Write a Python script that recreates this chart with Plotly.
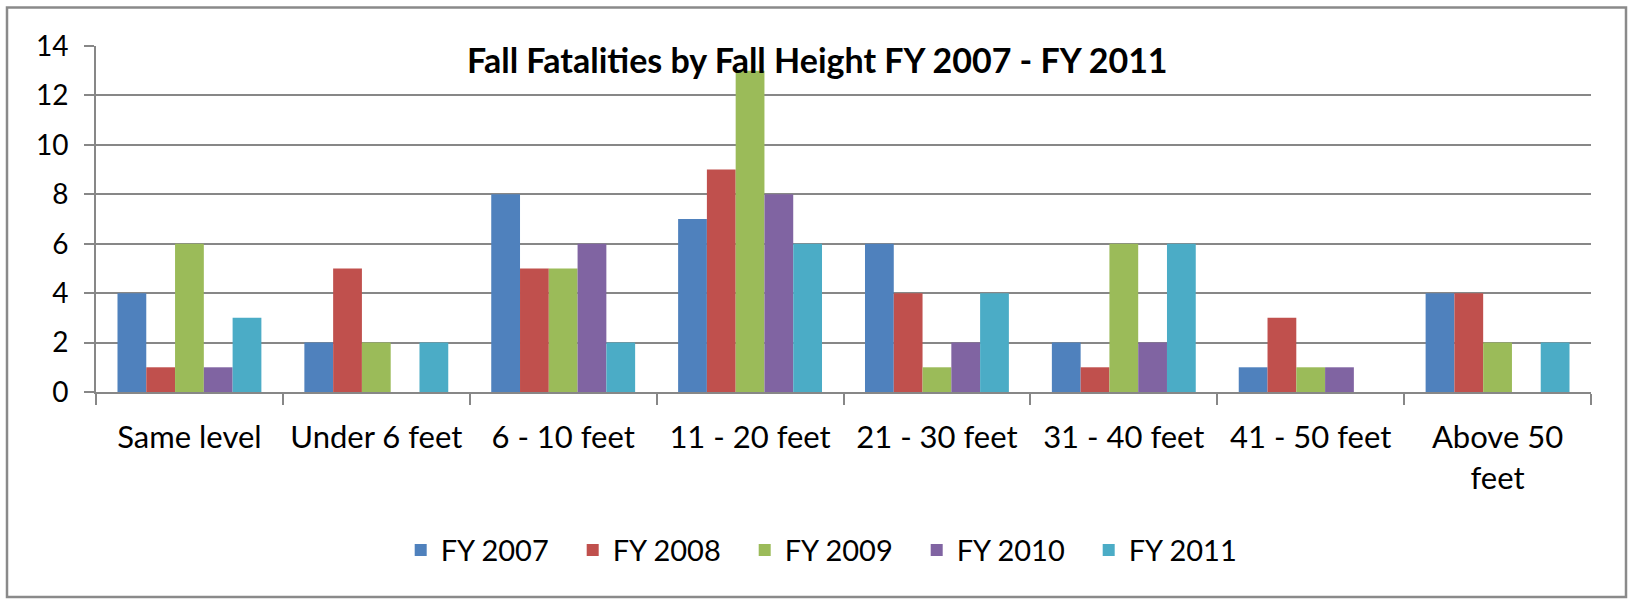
import plotly.graph_objects as go

categories = ["Same level", "Under 6 feet", "6 - 10 feet", "11 - 20 feet",
              "21 - 30 feet", "31 - 40 feet", "41 - 50 feet", "Above 50<br>feet"]
series_names = ["FY 2007", "FY 2008", "FY 2009", "FY 2010", "FY 2011"]
fy2007 = [4, 2, 8, 7, 6, 2, 1, 4]
fy2008 = [1, 5, 5, 9, 4, 1, 3, 4]
fy2009 = [6, 2, 5, 13, 1, 6, 1, 2]
fy2010 = [1, 0, 6, 8, 2, 2, 1, 0]
fy2011 = [3, 2, 2, 6, 4, 6, 0, 2]
colors = ["#4F81BD", "#C0504D", "#9BBB59", "#8064A2", "#4BACC6"]
y_ticks = [0, 2, 4, 6, 8, 10, 12, 14]
title_text = "Fall Fatalities by Fall Height FY 2007 - FY 2011"

FONT = "Lato"
GRID = "#878787"

fig = go.Figure()
for name, vals, col in zip(series_names, [fy2007, fy2008, fy2009, fy2010, fy2011], colors):
    fig.add_trace(go.Bar(name=name, x=categories, y=vals, marker_color=col,
                         marker_line_width=0))

W, H = 1629, 600
L, R, T, B = 96, 38, 45.5, 207.5
pw = W - L - R
ph = H - T - B

def px(x):
    return (x - L) / pw

def py(y):
    return (H - B - y) / ph

fig.update_layout(
    width=W, height=H,
    margin=dict(l=L, r=R, t=T, b=B, pad=0),
    paper_bgcolor="white", plot_bgcolor="white",
    barmode="group", bargap=0.23, bargroupgap=0,
    font=dict(family=FONT, size=30, color="#000000"),
    showlegend=True,
    legend=dict(orientation="h", xanchor="left", yanchor="middle",
                x=px(400.7), y=py(551), font=dict(size=29, family=FONT, color="#000"),
                entrywidth=127, entrywidthmode="pixels", itemwidth=30,
                traceorder="normal", bgcolor="rgba(0,0,0,0)", borderwidth=0),
    xaxis=dict(showline=True, linecolor=GRID, linewidth=2,
               ticks="outside", tickson="boundaries", ticklen=11,
               tickcolor=GRID, tickwidth=2, showgrid=False, tickangle=0,
               tickfont=dict(size=31, family=FONT, color="#000"), ticklabelstandoff=17),
    yaxis=dict(range=[0, 14], tickvals=y_ticks, showline=True, linecolor=GRID,
               linewidth=2, ticks="outside", ticklen=10, tickcolor=GRID,
               tickwidth=2, showgrid=True, gridcolor=GRID, gridwidth=2,
               zeroline=False, tickfont=dict(size=28, family=FONT, color="#000"),
               ticklabelstandoff=10),
    annotations=[dict(text="<b>" + title_text + "</b>", xref="paper", yref="paper",
                      x=px(817.5), y=py(59), xanchor="center", yanchor="middle",
                      showarrow=False, font=dict(size=34, family=FONT, color="#000"))],
    shapes=[dict(type="rect", xref="paper", yref="paper",
                 x0=px(7), x1=px(1626), y0=py(598), y1=py(7),
                 line=dict(color="#8a8a8a", width=2.5), layer="below")],
)

fig.write_html("out.html", config={"displayModeBar": False},
               post_script="document.body.style.margin='0';document.body.style.overflow='hidden';")
